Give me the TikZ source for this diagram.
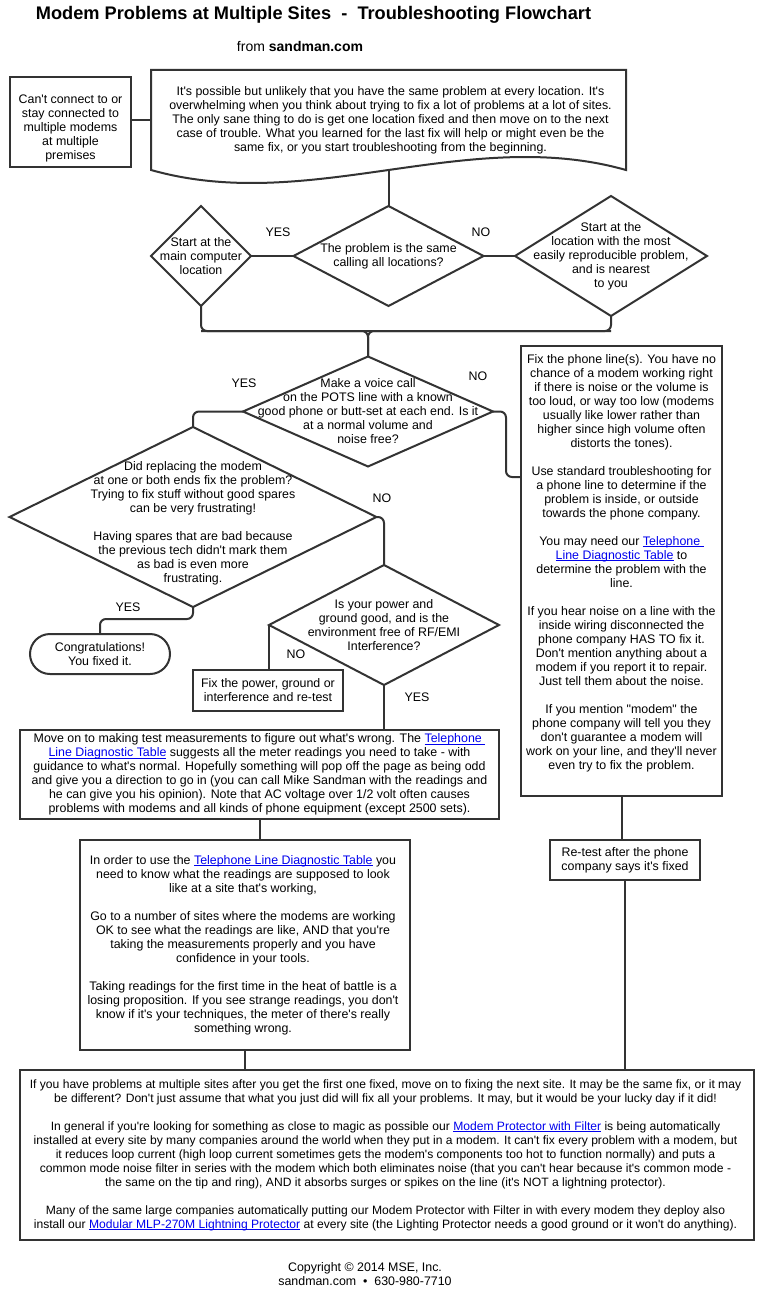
\documentclass[tikz,border=0pt]{standalone}
\usepackage{fontspec}
\setmainfont{Liberation Sans}[Ligatures=TeXOff]
\usetikzlibrary{shapes.geometric,calc}
\definecolor{lc}{HTML}{333333}
\definecolor{linkc}{HTML}{0000EE}
\newcommand\txfont{\fontsize{12.4}{14}\selectfont}
\newcommand\smfont{\fontsize{12.1}{14}\selectfont}
\newcommand\lnkx[1]{\textcolor{linkc}{\setbox0\hbox{#1}\rlap{\rule[-1.6pt]{\wd0}{0.8pt}}\box0}}
\tikzset{
 shp/.style={draw=lc, line width=2pt, fill=white, inner sep=0pt, outer sep=0pt},
 rbox/.style={shp, rectangle},
 dbox/.style={shp, diamond},
 txt/.style={font=\txfont, align=center, inner sep=0pt, text=black},
 conn/.style={draw=lc, line width=2pt, rounded corners=6pt},
 yn/.style={font=\txfont, inner sep=0pt},
}
\begin{document}
\begin{tikzpicture}[x=1pt,y=-1pt]
\useasboundingbox[fill=white] (0,0) rectangle (770,1308);

% title
\node[font=\bfseries\fontsize{18.2}{20}\selectfont, inner sep=0pt] (title) at (313.5,15) {Modem Problems at Multiple Sites\ \ -\ \ Troubleshooting Flowchart};
\node[font=\fontsize{14}{16}\selectfont, inner sep=0pt] (from) at (300,46) {from \textbf{sandman.com}};

% start box
\node[rbox, minimum width=121pt, minimum height=90pt,
  label={[txt,yshift=-6pt]center:{Can't connect to or\\stay connected to\\multiple modems\\at multiple\\premises}}] (start) at (70.5,122) {};

% intro document shape
\draw[draw=lc, line width=2pt] (151,70) -- (626,70) -- (626,170) .. controls +(-159,-45) and +(159,45) .. (151,170) -- cycle;
\node[draw=none, inner sep=0pt, outer sep=0pt, minimum width=475pt, minimum height=100pt,
  label={[txt,xshift=2pt]center:{It's possible but unlikely that you have the same problem at every location. It's\\overwhelming when you think about trying to fix a lot of problems at a lot of sites.\\The only sane thing to do is get one location fixed and then move on to the next\\case of trouble. What you learned for the last fix will help or might even be the\\same fix, or you start troubleshooting from the beginning.}}] (intro) at (388.5,120) {};
\coordinate (wave) at (388.5,170);

% first row diamonds
\node[dbox, minimum width=100pt, minimum height=100pt,
  label={[txt]center:{Start at the\\main computer\\location}}] (dleft) at (201,256) {};
\node[dbox, minimum width=190pt, minimum height=100pt,
  label={[txt]center:{The problem is the same\\calling all locations?}}] (dsame) at (388.5,256) {};
\node[dbox, minimum width=192pt, minimum height=120pt,
  label={[txt]center:{Start at the\\location with the most\\easily reproducible problem,\\and is nearest\\to you}}] (dright) at (611,256) {};

% voice diamond
\node[dbox, minimum width=250pt, minimum height=110pt,
  label={[txt]center:{Make a voice call\\on the POTS line with a known\\good phone or butt-set at each end. Is it\\at a normal volume and\\noise free?}}] (dvoice) at (368,411.5) {};

% modem diamond
\node[dbox, minimum width=367pt, minimum height=180pt,
  label={[txt,yshift=-6.5pt]center:{Did replacing the modem\\at one or both ends fix the problem?\\Trying to fix stuff without good spares\\can be very frustrating!\\[14pt]Having spares that are bad because\\the previous tech didn't mark them\\as bad is even more\\frustrating.}}] (dmodem) at (193,517) {};

% power diamond
\node[dbox, minimum width=230pt, minimum height=120pt,
  label={[txt]center:{Is your power and\\ground good, and is the\\environment free of RF/EMI\\Interference?}}] (dpower) at (384,625) {};

% congrats
\node[rbox, rounded corners=20pt, minimum width=140pt, minimum height=40pt,
  label={[txt]center:{Congratulations!\\You fixed it.}}] (congrats) at (100,654) {};

% fix power
\node[rbox, minimum width=150pt, minimum height=41pt,
  label={[txt]center:{Fix the power, ground or\\interference and re-test}}] (fixp) at (268,690.5) {};

% measure box
\node[rbox, minimum width=479pt, minimum height=89pt,
  label={[txt]center:{Move on to making test measurements to figure out what's wrong. The \lnkx{Telephone\ }\\\lnkx{Line Diagnostic Table} suggests all the meter readings you need to take - with\\guidance to what's normal. Hopefully something will pop off the page as being odd\\and give you a direction to go in (you can call Mike Sandman with the readings and\\he can give you his opinion). Note that AC voltage over 1/2 volt often causes\\problems with modems and all kinds of phone equipment (except 2500 sets).}}] (meas) at (259.5,774.5) {};

% order box
\node[rbox, minimum width=330pt, minimum height=210pt,
  label={[txt,xshift=-2pt]center:{In order to use the \lnkx{Telephone Line Diagnostic Table} you\\need to know what the readings are supposed to look\\like at a site that's working,\\[14pt]Go to a number of sites where the modems are working\\OK to see what the readings are like, AND that you're\\taking the measurements properly and you have\\confidence in your tools.\\[14pt]Taking readings for the first time in the heat of battle is a\\losing proposition. If you see strange readings, you don't\\know if it's your techniques, the meter of there's really\\something wrong.}}] (order) at (245,945) {};

% phone box
\node[rbox, minimum width=201pt, minimum height=450pt,
  label={[txt,yshift=8pt]center:{Fix the phone line(s). You have no\\chance of a modem working right\\if there is noise or the volume is\\too loud, or way too low (modems\\usually like lower rather than\\higher since high volume often\\distorts the tones).\\[14pt]Use standard troubleshooting for\\a phone line to determine if the\\problem is inside, or outside\\towards the phone company.\\[14pt]You may need our \lnkx{Telephone\ }\\\lnkx{Line Diagnostic Table} to\\determine the problem with the\\line.\\[14pt]If you hear noise on a line with the\\inside wiring disconnected the\\phone company HAS TO fix it.\\Don't mention anything about a\\modem if you report it to repair.\\Just tell them about the noise.\\[14pt]If you mention "modem" the\\phone company will tell you they\\don't guarantee a modem will\\work on your line, and they'll never\\even try to fix the problem.}}] (phone) at (621.5,571) {};

% retest
\node[rbox, minimum width=150pt, minimum height=40pt,
  label={[txt]center:{Re-test after the phone\\company says it's fixed}}] (retest) at (625,860) {};

% final box
\node[rbox, minimum width=734pt, minimum height=170pt,
  label={[txt,font=\smfont,xshift=-1.5pt]center:{If you have problems at multiple sites after you get the first one fixed, move on to fixing the next site. It may be the same fix, or it may\\be different? Don't just assume that what you just did will fix all your problems. It may, but it would be your lucky day if it did!\\[14pt]In general if you're looking for something as close to magic as possible our \lnkx{Modem Protector with Filter} is being automatically\\installed at every site by many companies around the world when they put in a modem. It can't fix every problem with a modem, but\\it reduces loop current (high loop current sometimes gets the modem's components too hot to function normally) and puts a\\common mode noise filter in series with the modem which both eliminates noise (that you can't hear because it's common mode -\\the same on the tip and ring), AND it absorbs surges or spikes on the line (it's NOT a lightning protector).\\[14pt]Many of the same large companies automatically putting our Modem Protector with Filter in with every modem they deploy also\\install our \lnkx{Modular MLP-270M Lightning Protector} at every site (the Lighting Protector needs a good ground or it won't do anything).}}] (final) at (387,1155) {};

% copyright
\node[txt] (copy) at (365,1274) {Copyright © 2014 MSE, Inc.\\sandman.com\ \ •\ \ 630-980-7710};

% connectors
\coordinate (j) at (368,331);
\coordinate (pj) at (506,477);
\coordinate (cj) at (100,619);
\draw[conn] (start.east |- intro.west) -- (intro.west);
\draw[conn] (wave) -- (dsame.north);
\draw[conn] (dsame.west) -- (dleft.east);
\draw[conn] (dsame.east) -- (dright.west);
\draw[conn] (dleft.south) -- (dleft.south |- j) -- (dright.south |- j) -- (dright.south);
\draw[conn] (dleft.south |- j) -- (j) -- (dvoice.north);
\draw[conn] (dright.south |- j) -- (j) -- (dvoice.north);
\draw[conn] (dvoice.west) -| (dmodem.north);
\draw[conn] (dvoice.east) -| (pj) -- (pj -| phone.west);
\draw[conn] (dmodem.east) -| (dpower.north);
\draw[conn] (dmodem.south) |- (cj) -- (congrats.north);
\draw[conn] (dpower.west) -- (dpower.west |- fixp.north);
\draw[conn] (dpower.south) -- (dpower.south |- meas.north);
\draw[conn] (meas.south) -- (meas.south |- order.north);
\draw[conn] (order.south) -- (order.south |- final.north);
\draw[conn] (phone.south) -- (phone.south |- retest.north);
\draw[conn] (retest.south) -- (retest.south |- final.north);

% yes / no labels
\node[yn] (y1) at (278,232) {YES};
\node[yn] (n1) at (481,232) {NO};
\node[yn] (y2) at (244,383) {YES};
\node[yn] (n2) at (478,376) {NO};
\node[yn] (n3) at (382,498) {NO};
\node[yn] (y3) at (128,607) {YES};
\node[yn] (n4) at (296,654) {NO};
\node[yn] (y4) at (417,697) {YES};
\end{tikzpicture}
\end{document}
